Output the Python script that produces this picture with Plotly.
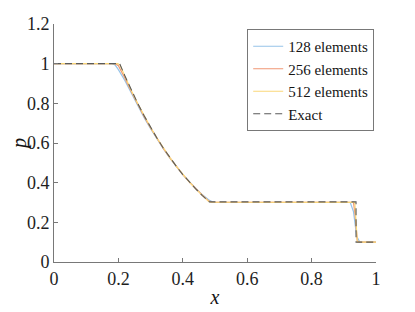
import plotly.graph_objects as go

# Exact solution
x_exact = [0.0, 0.204, 0.22, 0.24, 0.26, 0.28, 0.30, 0.32, 0.34, 0.36, 0.38, 0.40,
           0.42, 0.44, 0.46, 0.4825, 0.938, 0.938, 1.0]
p_exact = [1.0, 1.0, 0.939, 0.867, 0.800, 0.737, 0.678, 0.624, 0.573, 0.526, 0.482, 0.441,
           0.404, 0.369, 0.336, 0.303, 0.303, 0.100, 0.100]

# 128 elements
x_128 = [0.0, 0.18, 0.19, 0.20, 0.22, 0.24, 0.26, 0.28, 0.30, 0.32, 0.34, 0.36, 0.38, 0.40,
         0.42, 0.44, 0.46, 0.48, 0.49, 0.50, 0.92, 0.93, 0.94, 0.95, 1.0]
p_128 = [1.0, 1.0, 0.993, 0.970, 0.915, 0.850, 0.788, 0.728, 0.672, 0.620, 0.570, 0.524,
         0.481, 0.441, 0.405, 0.371, 0.340, 0.314, 0.305, 0.301, 0.300, 0.255, 0.13, 0.100, 0.100]

# 256 elements
x_256 = [0.0, 0.19, 0.20, 0.21, 0.22, 0.24, 0.26, 0.28, 0.30, 0.32, 0.34, 0.36, 0.38, 0.40,
         0.42, 0.44, 0.46, 0.48, 0.49, 0.93, 0.935, 0.942, 0.95, 1.0]
p_256 = [1.0, 1.0, 0.990, 0.962, 0.928, 0.860, 0.795, 0.733, 0.676, 0.622, 0.572, 0.525,
         0.481, 0.441, 0.404, 0.370, 0.338, 0.308, 0.302, 0.301, 0.24, 0.105, 0.100, 0.100]

# 512 elements
x_512 = [0.0, 0.198, 0.205, 0.22, 0.24, 0.26, 0.28, 0.30, 0.32, 0.34, 0.36, 0.38, 0.40,
         0.42, 0.44, 0.46, 0.48, 0.487, 0.934, 0.938, 0.942, 1.0]
p_512 = [1.0, 1.0, 0.993, 0.936, 0.865, 0.799, 0.736, 0.678, 0.624, 0.573, 0.526, 0.482, 0.441,
         0.404, 0.369, 0.337, 0.306, 0.302, 0.301, 0.20, 0.100, 0.100]

x_ticks = [0, 0.2, 0.4, 0.6, 0.8, 1]
x_ticklabels = ["0", "0.2", "0.4", "0.6", "0.8", "1"]
y_ticks = [0, 0.2, 0.4, 0.6, 0.8, 1, 1.2]
y_ticklabels = ["0", "0.2", "0.4", "0.6", "0.8", "1", "1.2"]

FONT = "Times New Roman, Liberation Serif, Tinos, Times, serif"

fig = go.Figure()
fig.add_trace(go.Scatter(x=x_128, y=p_128, mode="lines", name="128 elements",
                         line=dict(color="rgb(150,195,232)", width=1.2)))
fig.add_trace(go.Scatter(x=x_256, y=p_256, mode="lines", name="256 elements",
                         line=dict(color="rgb(240,150,115)", width=1.2)))
fig.add_trace(go.Scatter(x=x_512, y=p_512, mode="lines", name="512 elements",
                         line=dict(color="rgb(250,215,120)", width=1.2)))
fig.add_trace(go.Scatter(x=x_exact, y=p_exact, mode="lines", name="Exact",
                         line=dict(color="rgb(90,90,90)", width=1.1, dash="7px,4px")))

axis_common = dict(showline=True, linecolor="rgb(120,120,120)", linewidth=1,
                   ticks="inside", ticklen=4, tickcolor="rgb(120,120,120)", tickwidth=1,
                   showgrid=False, zeroline=False, mirror=False, automargin=False,
                   tickfont=dict(family=FONT, size=18, color="rgb(30,30,30)"))

fig.update_layout(
    width=407, height=304,
    margin=dict(l=46, r=39, t=16, b=50),
    paper_bgcolor="white", plot_bgcolor="white",
    font=dict(family=FONT),
    showlegend=True,
    legend=dict(x=0.6, y=0.979, xanchor="left", yanchor="top",
                bordercolor="rgb(120,120,120)", borderwidth=1, bgcolor="white",
                font=dict(family=FONT, size=15, color="rgb(20,20,20)"),
                tracegroupgap=0, itemwidth=30),
    xaxis=dict(range=[0, 1], tickvals=x_ticks, ticktext=x_ticklabels,
               title=dict(text="<i>x</i>", font=dict(family=FONT, size=20, color="rgb(20,20,20)"), standoff=2),
               **axis_common),
    yaxis=dict(range=[0, 1.2], tickvals=y_ticks, ticktext=y_ticklabels,
               title=dict(text="<i>p</i>", font=dict(family=FONT, size=20, color="rgb(20,20,20)"), standoff=6),
               **axis_common),
)

fig.write_html("out.html")
